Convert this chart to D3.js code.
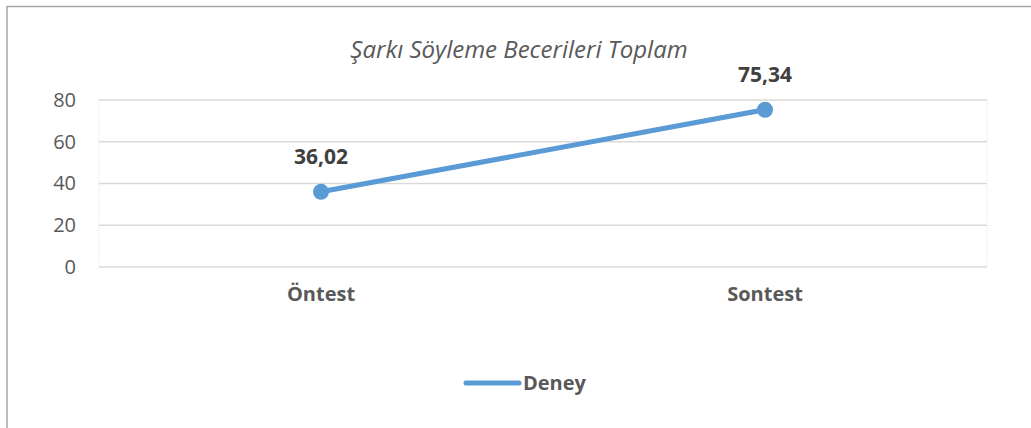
<!DOCTYPE html>
<html>
<head>
<meta charset="utf-8">
<script src="https://cdn.jsdelivr.net/npm/d3@7"></script>
<style>
  html, body { margin: 0; padding: 0; background: #fff; }
  svg { display: block; }
  text { font-family: "Open Sans", Lato, sans-serif; }
</style>
</head>
<body>
<svg id="chart" width="1031" height="428"></svg>
<script>
// Chart data
const categories = ["Öntest", "Sontest"];
const seriesName = "Deney";
const values = [36.02, 75.34];
const valueLabels = ["36,02", "75,34"];
const yTicks = [0, 20, 40, 60, 80];
const chartTitle = "Şarkı Söyleme Becerileri Toplam";

const svg = d3.select("#chart");
const W = 1031, H = 428;
const plot = { left: 99, right: 987, top: 100, bottom: 267 };
const lineColor = "#5b9bd5";
const fontFam = "'Open Sans', Lato, sans-serif";

// outer frame (top and left edges visible)
svg.append("path")
  .attr("d", `M7,${H} V6.5 H${W}`)
  .attr("fill", "none")
  .attr("stroke", "#a6a6a6")
  .attr("stroke-width", 1.5);

const x = d3.scaleBand().domain(categories).range([plot.left, plot.right]);
const y = d3.scaleLinear().domain([0, 80]).range([plot.bottom, plot.top]);

// horizontal gridlines
svg.append("g")
  .selectAll("line")
  .data(yTicks)
  .join("line")
  .attr("x1", plot.left).attr("x2", plot.right)
  .attr("y1", d => y(d)).attr("y2", d => y(d))
  .attr("stroke", "#d9d9d9")
  .attr("stroke-width", 1.5);

// dotted plot-area sides
[plot.left, plot.right].forEach(px => {
  svg.append("line")
    .attr("x1", px).attr("x2", px)
    .attr("y1", plot.top).attr("y2", plot.bottom)
    .attr("stroke", "#d9d9d9")
    .attr("stroke-width", 1)
    .attr("stroke-dasharray", "1,1.5");
});

// y axis labels
const yAxis = d3.axisLeft(y).tickValues(yTicks).tickSize(0).tickPadding(23);
const gy = svg.append("g").attr("transform", `translate(${plot.left},0)`).call(yAxis);
gy.select(".domain").remove();
gy.selectAll("text")
  .attr("fill", "#595959")
  .style("font-size", "20px")
  .style("font-family", fontFam);

// x axis labels
const xAxis = d3.axisBottom(x).tickSize(0).tickPadding(20);
const gx = svg.append("g").attr("transform", `translate(0,${plot.bottom})`).call(xAxis);
gx.select(".domain").remove();
gx.selectAll("text")
  .attr("fill", "#595959")
  .style("font-size", "20px")
  .style("font-weight", "bold")
  .style("font-family", fontFam);

// title
svg.append("text")
  .attr("x", 519).attr("y", 58)
  .attr("text-anchor", "middle")
  .attr("fill", "#595959")
  .style("font-size", "24px")
  .style("font-style", "italic")
  .text(chartTitle);

// series line
const pts = categories.map((c, i) => [x(c) + x.bandwidth() / 2, y(values[i])]);
svg.append("path")
  .attr("d", d3.line()(pts))
  .attr("fill", "none")
  .attr("stroke", lineColor)
  .attr("stroke-width", 5)
  .attr("stroke-linecap", "round");

svg.append("g")
  .selectAll("circle")
  .data(pts)
  .join("circle")
  .attr("cx", d => d[0]).attr("cy", d => d[1])
  .attr("r", 8)
  .attr("fill", lineColor);

// data labels
svg.append("g")
  .selectAll("text")
  .data(pts)
  .join("text")
  .attr("x", d => d[0])
  .attr("y", d => d[1] - 28)
  .attr("text-anchor", "middle")
  .attr("fill", "#404040")
  .style("font-size", "21px")
  .style("font-weight", "bold")
  .text((d, i) => valueLabels[i]);

// legend
const lg = svg.append("g");
lg.append("line")
  .attr("x1", 466).attr("x2", 519)
  .attr("y1", 383).attr("y2", 383)
  .attr("stroke", lineColor)
  .attr("stroke-width", 5)
  .attr("stroke-linecap", "round");
lg.append("text")
  .attr("x", 523).attr("y", 390)
  .attr("fill", "#595959")
  .style("font-size", "20px")
  .style("font-weight", "bold")
  .text(seriesName);
</script>
</body>
</html>
